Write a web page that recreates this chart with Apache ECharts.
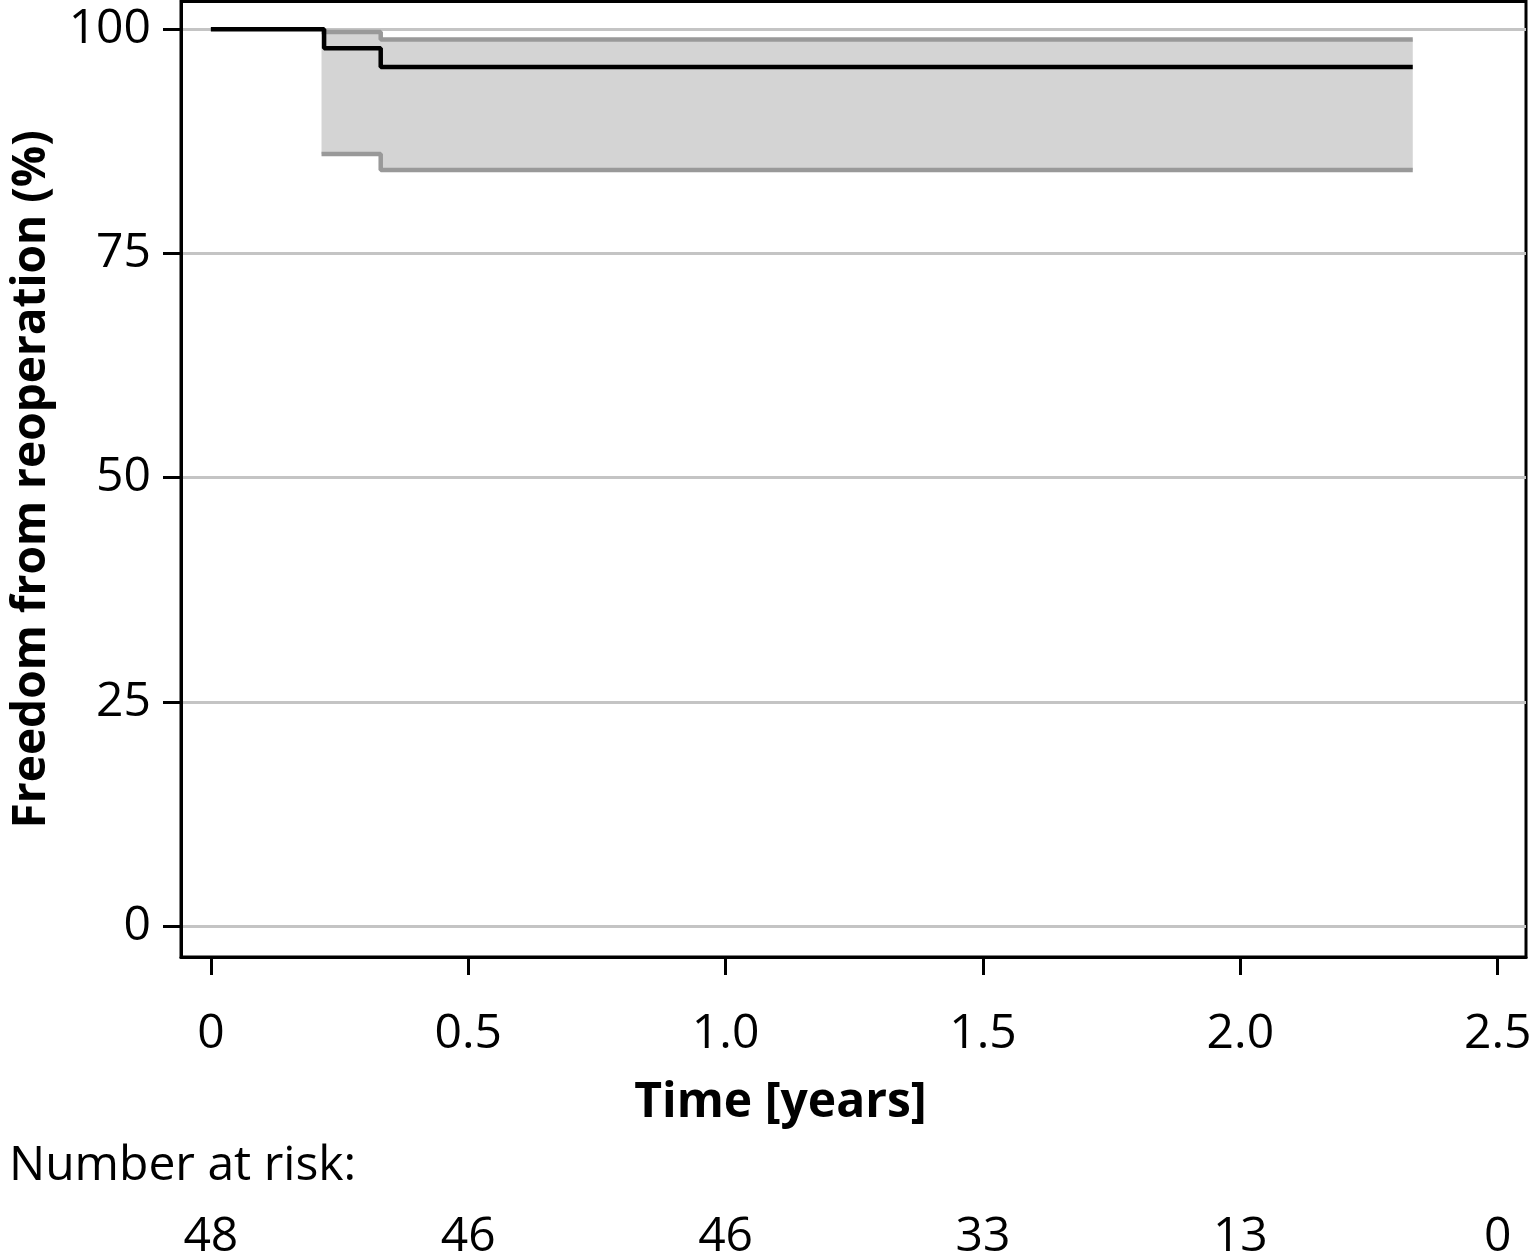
<!DOCTYPE html>
<html>
<head>
<meta charset="utf-8">
<script src="https://cdn.jsdelivr.net/npm/echarts@6/dist/echarts.min.js"></script>
<style>
html,body{margin:0;padding:0;background:#fff;}
#chart{width:1529px;height:1252px;}
</style>
</head>
<body>
<div id="chart"></div>
<script>
// Kaplan-Meier estimate (time in years, freedom in %)
const kmTimes = [0, 0.22, 0.33, 2.335];
const kmValues = [100, 97.9, 95.8, 95.8];
// 95% confidence band
const ciTimes = [0.215, 0.33, 2.335];
const ciUpper = [99.7, 98.85, 98.85];
const ciLower = [86.1, 84.3, 84.3];
// axes
const xTicks = [0, 0.5, 1.0, 1.5, 2.0, 2.5];
const yTicks = [0, 25, 50, 75, 100];
// number at risk at each x tick
const atRisk = [48, 46, 46, 33, 13, 0];

const FONT = '"Open Sans", "Noto Sans", sans-serif';
const chart = echarts.init(document.getElementById('chart'));

const pairs = (xs, ys) => xs.map((x, i) => [x, ys[i]]);

const xMin = -0.058, xMax = 2.555;

chart.setOption({
  animation: false,
  backgroundColor: '#fff',
  title: {
    text: 'Number at risk:',
    left: 4, top: 1137,
    textStyle: {fontFamily: FONT, fontSize: 48, fontWeight: 'normal', color: '#000'}
  },
  grid: [
    {left: 181, top: 1.5, width: 1345, height: 955.5, show: true, borderColor: '#000', borderWidth: 3,
     containLabel: false, outerBoundsMode: 'none'},
    {left: 181, top: 1200, width: 1345, height: 1, show: false, containLabel: false, outerBoundsMode: 'none'}
  ],
  xAxis: [
    {
      type: 'value', gridIndex: 0, min: xMin, max: xMax,
      name: 'Time [years]', nameLocation: 'middle', nameGap: 122,
      nameTextStyle: {fontFamily: FONT, fontSize: 48, fontWeight: 'bold', color: '#000', padding: [0, 146, 0, 0]},
      axisLine: {show: true, onZero: false, lineStyle: {color: '#000', width: 3}},
      axisTick: {show: true, length: 18, customValues: xTicks, lineStyle: {color: '#000', width: 3}},
      axisLabel: {customValues: xTicks, margin: 53, fontFamily: FONT, fontSize: 48, color: '#000',
        formatter: v => (v === 0 ? '0' : v.toFixed(1))},
      splitLine: {show: false}
    },
    {
      type: 'value', gridIndex: 1, min: xMin, max: xMax,
      axisLine: {show: false}, axisTick: {show: false},
      axisLabel: {customValues: xTicks, margin: 12, fontFamily: FONT, fontSize: 48, color: '#000',
        formatter: v => {
          const i = xTicks.findIndex(t => Math.abs(t - v) < 1e-6);
          return i >= 0 ? String(atRisk[i]) : '';
        }},
      splitLine: {show: false}
    }
  ],
  yAxis: [
    {
      type: 'value', gridIndex: 0, min: -3.45, max: 103.1,
      name: 'Freedom from reoperation (%)', nameLocation: 'middle', nameGap: 126, nameRotate: 90,
      nameTextStyle: {fontFamily: FONT, fontSize: 46, fontWeight: 'bold', color: '#000'},
      axisLine: {show: true, onZero: false, lineStyle: {color: '#000', width: 3}},
      axisTick: {show: true, length: 18, customValues: yTicks, lineStyle: {color: '#000', width: 3}},
      axisLabel: {customValues: yTicks, margin: 30, fontFamily: FONT, fontSize: 48, color: '#000'},
      splitLine: {show: true, lineStyle: {color: '#c4c4c4', width: 3}}
    },
    {type: 'value', gridIndex: 1, min: 0, max: 1, show: false}
  ],
  series: [
    {
      type: 'custom', name: 'ciBand', xAxisIndex: 0, yAxisIndex: 0,
      data: [0],
      renderItem: (params, api) => {
        // step-shaped band polygon built from the CI arrays through the axis scales
        const top = [], bottom = [];
        for (let i = 0; i < ciTimes.length - 1; i++) {
          top.push(api.coord([ciTimes[i], ciUpper[i]]), api.coord([ciTimes[i + 1], ciUpper[i]]));
          bottom.push(api.coord([ciTimes[i], ciLower[i]]), api.coord([ciTimes[i + 1], ciLower[i]]));
        }
        return {
          type: 'polygon',
          shape: {points: top.concat(bottom.reverse())},
          style: {fill: '#d4d4d4', stroke: null}
        };
      },
      z: 2
    },
    {
      type: 'line', name: 'ciLower', xAxisIndex: 0, yAxisIndex: 0, step: 'end',
      data: pairs(ciTimes, ciLower), symbol: 'none',
      lineStyle: {color: '#999999', width: 4.5}, z: 3
    },
    {
      type: 'line', name: 'ciUpper', xAxisIndex: 0, yAxisIndex: 0, step: 'end',
      data: pairs(ciTimes, ciUpper), symbol: 'none',
      lineStyle: {color: '#999999', width: 4.5}, z: 3
    },
    {
      type: 'line', name: 'KM', xAxisIndex: 0, yAxisIndex: 0, step: 'end',
      data: pairs(kmTimes, kmValues), symbol: 'none',
      lineStyle: {color: '#000', width: 4.5}, z: 4
    },
    {type: 'line', xAxisIndex: 1, yAxisIndex: 1, data: [], symbol: 'none'}
  ]
});
</script>
</body>
</html>
